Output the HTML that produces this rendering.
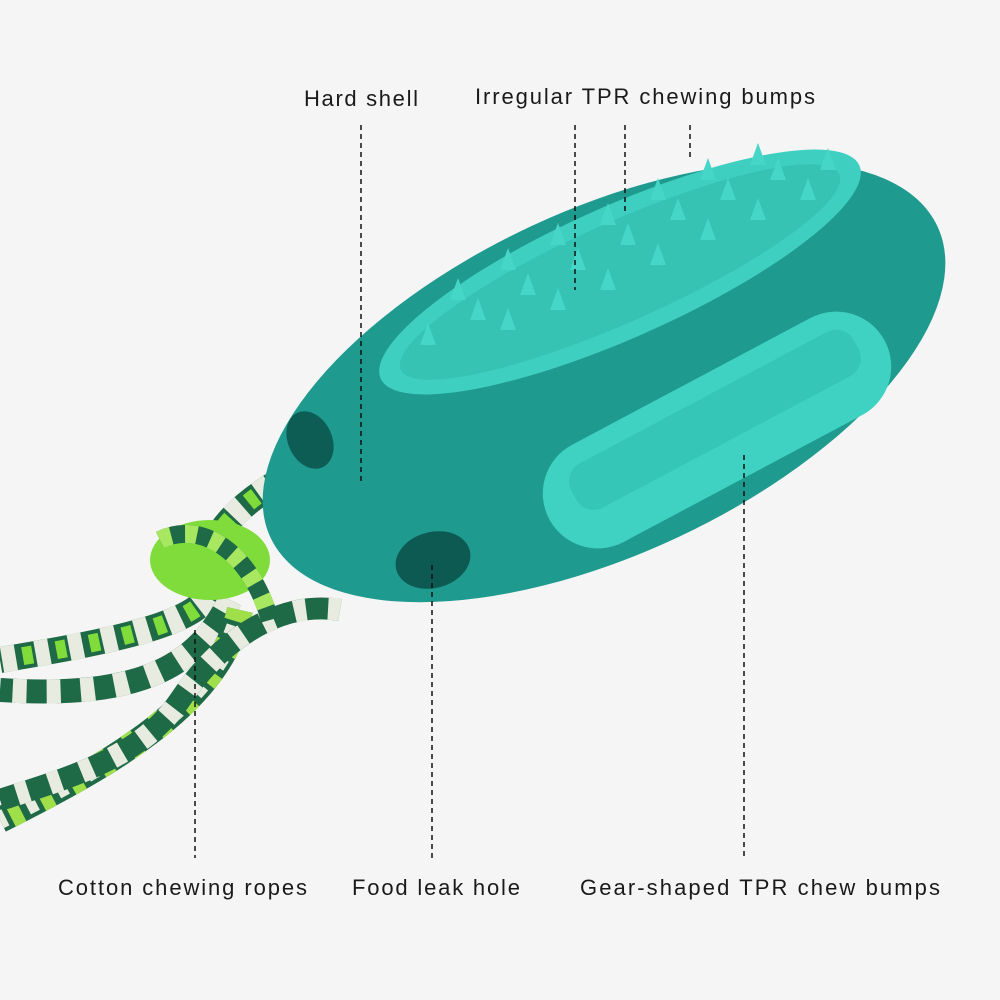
<!DOCTYPE html>
<html><head><meta charset="utf-8"><style>
html,body{margin:0;padding:0;background:#f5f5f5;}
svg{display:block;}
text{font-family:"Liberation Sans",sans-serif;font-size:22px;fill:#1a1a1a;}
</style></head><body>
<svg width="1000" height="1000" viewBox="0 0 1000 1000">
<rect width="1000" height="1000" fill="#f5f5f5"/>
<!-- ropes -->
<g fill="none" stroke-linecap="butt">
<path d="M300,470 C240,500 200,540 210,580 C220,620 120,640 0,660" stroke="#1f6a46" stroke-width="26"/>
<path d="M300,470 C240,500 200,540 210,580 C220,620 120,640 0,660" stroke="#e8ece0" stroke-width="26" stroke-dasharray="14 20"/>
<path d="M300,470 C240,500 200,540 210,580 C220,620 120,640 0,660" stroke="#7fdc3a" stroke-width="18" stroke-dasharray="10 24" stroke-dashoffset="17"/>
<path d="M230,600 C200,660 150,700 0,690" stroke="#1f6a46" stroke-width="24"/>
<path d="M230,600 C200,660 150,700 0,690" stroke="#e8ece0" stroke-width="24" stroke-dasharray="14 20"/>
<path d="M240,610 C220,700 120,760 0,820" stroke="#1f6a46" stroke-width="26"/>
<path d="M240,610 C220,700 120,760 0,820" stroke="#9fe04a" stroke-width="26" stroke-dasharray="12 22"/>
<path d="M240,610 C220,700 120,760 0,820" stroke="#e8ece0" stroke-width="18" stroke-dasharray="10 24" stroke-dashoffset="17"/>
<path d="M340,610 C280,600 220,640 180,700 C140,760 60,780 0,800" stroke="#1f6a46" stroke-width="22"/>
<path d="M340,610 C280,600 220,640 180,700 C140,760 60,780 0,800" stroke="#e8ece0" stroke-width="22" stroke-dasharray="12 22"/>
<ellipse cx="210" cy="560" rx="60" ry="40" fill="#7fdc3a"/>
<path d="M160,540 C200,520 250,550 270,620" stroke="#1f6a46" stroke-width="18"/>
<path d="M160,540 C200,520 250,550 270,620" stroke="#a8e860" stroke-width="18" stroke-dasharray="12 14"/>
</g>
<!-- body -->
<g transform="rotate(-25 604 382)">
<ellipse cx="604" cy="382" rx="368" ry="172" fill="#1f9a8f"/>
</g>
<ellipse cx="310" cy="440" rx="22" ry="30" fill="#0e5d55" transform="rotate(-25 310 440)"/>
<g transform="rotate(-24 620 272)">
<ellipse cx="620" cy="272" rx="262" ry="66" fill="#3fcfc0"/>
<ellipse cx="620" cy="272" rx="240" ry="50" fill="#36c3b4"/>
</g>
<g fill="#45d6c7">
<path d="M420,345 l8,-22 l8,22z M470,320 l8,-22 l8,22z M520,295 l8,-22 l8,22z M570,270 l8,-22 l8,22z M620,245 l8,-22 l8,22z M670,220 l8,-22 l8,22z M720,200 l8,-22 l8,22z M770,180 l8,-22 l8,22z M820,170 l8,-22 l8,22z M450,300 l8,-22 l8,22z M500,270 l8,-22 l8,22z M550,245 l8,-22 l8,22z M600,225 l8,-22 l8,22z M650,200 l8,-22 l8,22z M700,180 l8,-22 l8,22z M750,165 l8,-22 l8,22z M600,290 l8,-22 l8,22z M650,265 l8,-22 l8,22z M700,240 l8,-22 l8,22z M750,220 l8,-22 l8,22z M800,200 l8,-22 l8,22z M550,310 l8,-22 l8,22z M500,330 l8,-22 l8,22z"/>
</g>
<g transform="rotate(-28 717 430)">
<rect x="527" y="375" width="380" height="110" rx="55" fill="#3fd2c3"/>
<rect x="560" y="395" width="320" height="50" rx="20" fill="#36c6b7"/>
</g>
<ellipse cx="433" cy="560" rx="38" ry="28" fill="#0c5a52" transform="rotate(-15 433 560)"/>
<!-- dashed lines -->
<g stroke="#111" stroke-width="1.5" stroke-dasharray="5 4">
<line x1="361" y1="125" x2="361" y2="485"/>
<line x1="575" y1="125" x2="575" y2="290"/>
<line x1="625" y1="125" x2="625" y2="215"/>
<line x1="690" y1="125" x2="690" y2="160"/>
<line x1="195" y1="630" x2="195" y2="858"/>
<line x1="432" y1="565" x2="432" y2="858"/>
<line x1="744" y1="455" x2="744" y2="858"/>
</g>
<text x="304" y="106" textLength="114" lengthAdjust="spacing">Hard shell</text>
<text x="475" y="104" textLength="340" lengthAdjust="spacing">Irregular TPR chewing bumps</text>
<text x="58" y="895" textLength="249" lengthAdjust="spacing">Cotton chewing ropes</text>
<text x="352" y="895" textLength="168" lengthAdjust="spacing">Food leak hole</text>
<text x="580" y="895" textLength="360" lengthAdjust="spacing">Gear-shaped TPR chew bumps</text>
</svg>
</body></html>
